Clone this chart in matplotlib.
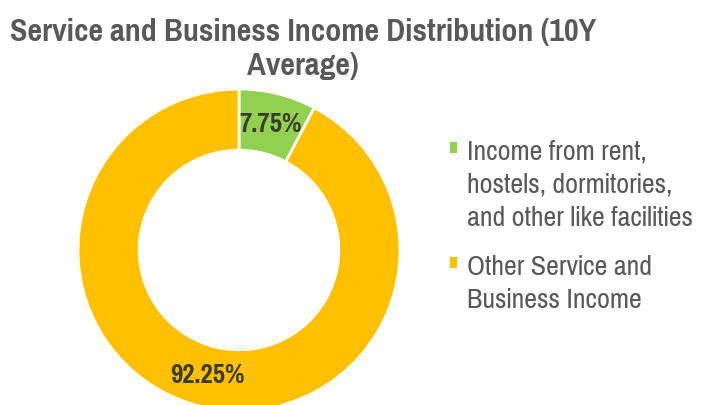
import matplotlib.pyplot as plt

labels = ["Income from rent,\nhostels, dormitories,\nand other like facilities",
          "Other Service and\nBusiness Income"]
shares = [7.75, 92.25]
colors = ["#92D050", "#FFC000"]

plt.rcParams['font.family'] = ['Pragati Narrow', 'Archivo Narrow', 'DejaVu Sans']

fig = plt.figure(figsize=[7.06, 4.05], dpi=100)
# donut centred near (239, 250) px, radius ~161 px
ax = fig.add_axes([(239 - 161) / 706, (405 - 250 - 161) / 405, 322 / 706, 322 / 405])

wedges, texts, autotexts = ax.pie(
    shares, colors=colors, startangle=90, counterclock=False,
    autopct=lambda p: f"{p:.2f}%", pctdistance=0.805,
    wedgeprops=dict(width=0.38, edgecolor="white", linewidth=2),
    textprops=dict(fontsize=21, fontweight="bold", color="#3b3b2e"))
ax.set_xlim(-1, 1)
ax.set_ylim(-1, 1)
ax.set_aspect("equal")
for w in wedges:
    w.set_clip_on(False)

fig.text(0.429, 0.879, "Service and Business Income Distribution (10Y\nAverage)",
         ha="center", va="center", fontsize=25, fontweight="bold",
         color="#595959", linespacing=1.3)

leg = fig.legend(wedges, labels, loc="upper left", bbox_to_anchor=(0.634, 0.655),
                 frameon=False, fontsize=22, labelcolor="#595959",
                 handlelength=0.33, handleheight=0.33, handletextpad=0.3,
                 labelspacing=0.8, borderpad=0, borderaxespad=0)
for t in leg.get_texts():
    t.set_linespacing(1.4)
# marker next to the first line of each entry, as in the original
for col in leg._legend_handle_box.get_children():
    for item in col.get_children():
        item.align = "top"

plt.savefig("out.png", dpi=100)
